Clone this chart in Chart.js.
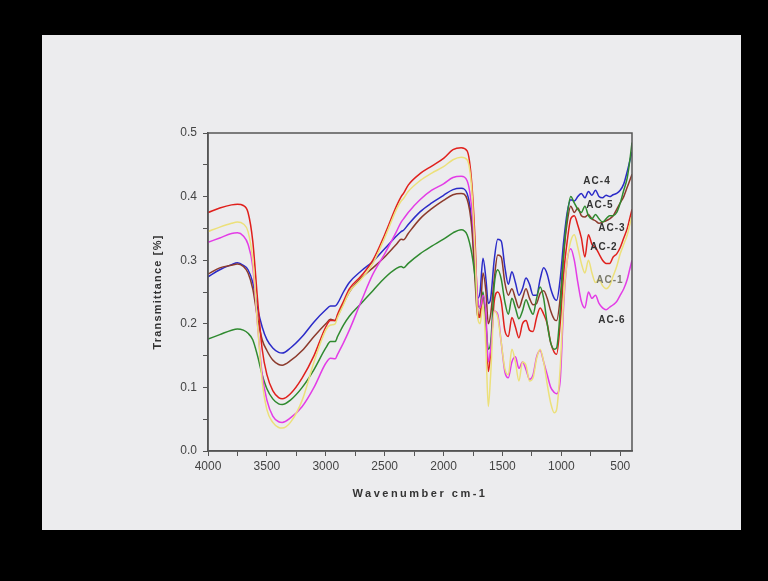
<!DOCTYPE html>
<html>
<head>
<meta charset="utf-8">
<script src="https://cdn.jsdelivr.net/npm/chart.js"></script>
<style>
  html, body { margin: 0; padding: 0; background: #000; }
  canvas { display: block; }
</style>
</head>
<body>
<canvas id="irChart" width="768" height="581"></canvas>
<script>
// wavenumber (cm-1) sampling points
const wavenumbers = [4000, 3900, 3800, 3750, 3700, 3660, 3620, 3580, 3540, 3500,
  3450, 3400, 3370, 3300, 3200, 3100, 3000, 2960, 2920, 2900,
  2850, 2800, 2700, 2600, 2500, 2400, 2360, 2340, 2300, 2200,
  2100, 2000, 1920, 1850, 1800, 1760, 1730, 1710, 1690, 1665,
  1640, 1620, 1600, 1570, 1540, 1510, 1480, 1450, 1420, 1390,
  1360, 1330, 1300, 1270, 1240, 1210, 1180, 1150, 1120, 1090,
  1060, 1040, 1010, 980, 950, 920, 890, 860, 830, 800,
  770, 740, 710, 680, 650, 620, 590, 560, 530, 500,
  470, 440, 420, 400];

const ac4 = [0.274, 0.285, 0.293, 0.296, 0.292, 0.285, 0.265, 0.225, 0.195, 0.175,
  0.162, 0.155, 0.154, 0.162, 0.180, 0.203, 0.222, 0.228, 0.228, 0.232,
  0.250, 0.265, 0.283, 0.298, 0.318, 0.338, 0.345, 0.347, 0.356, 0.376,
  0.390, 0.402, 0.411, 0.413, 0.405, 0.360, 0.280, 0.240, 0.250, 0.303,
  0.270, 0.232, 0.240, 0.300, 0.333, 0.330, 0.290, 0.262, 0.282, 0.265,
  0.245, 0.255, 0.272, 0.262, 0.245, 0.245, 0.270, 0.288, 0.278, 0.255,
  0.240, 0.237, 0.270, 0.330, 0.375, 0.395, 0.393, 0.400, 0.405, 0.398,
  0.408, 0.402, 0.410, 0.400, 0.398, 0.402, 0.400, 0.403, 0.405, 0.410,
  0.420, 0.440, 0.455, 0.470];

const ac5 = [0.176, 0.183, 0.190, 0.192, 0.190, 0.185, 0.175, 0.150, 0.120, 0.098,
  0.082, 0.074, 0.073, 0.080, 0.100, 0.128, 0.162, 0.172, 0.172, 0.180,
  0.198, 0.212, 0.232, 0.252, 0.272, 0.287, 0.290, 0.288, 0.295, 0.310,
  0.322, 0.333, 0.343, 0.348, 0.340, 0.310, 0.270, 0.235, 0.225, 0.250,
  0.200, 0.160, 0.170, 0.260, 0.285, 0.270, 0.235, 0.215, 0.240, 0.225,
  0.208, 0.220, 0.238, 0.225, 0.215, 0.240, 0.258, 0.240, 0.200, 0.170,
  0.160, 0.162, 0.220, 0.310, 0.370, 0.400, 0.390, 0.380, 0.375, 0.385,
  0.370, 0.365, 0.372, 0.365, 0.360, 0.365, 0.370, 0.370, 0.375, 0.390,
  0.410, 0.430, 0.455, 0.485];

const ac3 = [0.278, 0.288, 0.292, 0.294, 0.290, 0.280, 0.255, 0.210, 0.175, 0.158,
  0.143, 0.136, 0.135, 0.142, 0.158, 0.180, 0.200, 0.207, 0.205, 0.212,
  0.232, 0.250, 0.272, 0.288, 0.305, 0.325, 0.333, 0.332, 0.342, 0.365,
  0.381, 0.394, 0.403, 0.405, 0.396, 0.350, 0.260, 0.210, 0.215, 0.280,
  0.250, 0.200, 0.215, 0.270, 0.308, 0.305, 0.265, 0.245, 0.255, 0.240,
  0.225, 0.240, 0.255, 0.240, 0.230, 0.232, 0.248, 0.252, 0.240, 0.220,
  0.207, 0.205, 0.240, 0.310, 0.360, 0.385, 0.375, 0.382, 0.370, 0.368,
  0.372, 0.365, 0.362, 0.358, 0.360, 0.362, 0.365, 0.370, 0.380, 0.390,
  0.400, 0.415, 0.425, 0.435];

const ac2 = [0.375, 0.382, 0.387, 0.388, 0.386, 0.375, 0.330, 0.240, 0.160, 0.120,
  0.095, 0.084, 0.082, 0.090, 0.115, 0.150, 0.195, 0.205, 0.205, 0.215,
  0.235, 0.255, 0.275, 0.300, 0.340, 0.385, 0.400, 0.405, 0.418, 0.436,
  0.448, 0.460, 0.474, 0.477, 0.472, 0.420, 0.320, 0.220, 0.210, 0.245,
  0.200, 0.125, 0.155, 0.235, 0.250, 0.235, 0.190, 0.180, 0.210, 0.195,
  0.178, 0.200, 0.205, 0.190, 0.188, 0.210, 0.225, 0.215, 0.200, 0.170,
  0.155, 0.152, 0.200, 0.280, 0.330, 0.365, 0.370, 0.355, 0.335, 0.305,
  0.340, 0.325, 0.320, 0.310, 0.300, 0.295, 0.295, 0.305, 0.310, 0.320,
  0.335, 0.350, 0.365, 0.380];

const ac1 = [0.345, 0.352, 0.358, 0.360, 0.357, 0.345, 0.300, 0.200, 0.110, 0.065,
  0.045, 0.037, 0.036, 0.045, 0.080, 0.140, 0.190, 0.198, 0.200, 0.210,
  0.230, 0.250, 0.270, 0.295, 0.335, 0.380, 0.393, 0.397, 0.408, 0.425,
  0.437, 0.447, 0.458, 0.462, 0.458, 0.410, 0.300, 0.210, 0.200, 0.230,
  0.160, 0.070, 0.120, 0.220, 0.210, 0.170, 0.130, 0.120, 0.160, 0.140,
  0.110, 0.140, 0.135, 0.110, 0.115, 0.145, 0.160, 0.140, 0.105, 0.075,
  0.060, 0.065, 0.130, 0.240, 0.300, 0.330, 0.340, 0.320, 0.295, 0.280,
  0.300, 0.280, 0.265, 0.270, 0.260, 0.255, 0.260, 0.275, 0.290, 0.310,
  0.325, 0.340, 0.355, 0.370];

const ac6 = [0.328, 0.335, 0.342, 0.343, 0.338, 0.325, 0.290, 0.200, 0.120, 0.080,
  0.055, 0.046, 0.045, 0.052, 0.070, 0.100, 0.138, 0.146, 0.145, 0.152,
  0.170, 0.190, 0.235, 0.278, 0.310, 0.345, 0.360, 0.365, 0.375, 0.395,
  0.410, 0.420, 0.430, 0.432, 0.425, 0.380, 0.300, 0.240, 0.225, 0.245,
  0.215, 0.140, 0.160, 0.220, 0.215, 0.170, 0.125, 0.115, 0.140, 0.148,
  0.130, 0.140, 0.128, 0.113, 0.120, 0.148, 0.158, 0.140, 0.120, 0.100,
  0.092, 0.090, 0.110, 0.230, 0.300, 0.318, 0.300, 0.265, 0.235, 0.225,
  0.250, 0.240, 0.245, 0.232, 0.225, 0.222, 0.226, 0.230, 0.235, 0.245,
  0.255, 0.270, 0.285, 0.300];

const xTicks = [4000, 3750, 3500, 3250, 3000, 2750, 2500, 2250, 2000, 1750, 1500, 1250, 1000, 750, 500];
const xTickLabels = ['4000', '', '3500', '', '3000', '', '2500', '', '2000', '', '1500', '', '1000', '', '500'];
const yTicks = [0, 0.05, 0.1, 0.15, 0.2, 0.25, 0.3, 0.35, 0.4, 0.45, 0.5];
const yTickLabels = ['0.0', '', '0.1', '', '0.2', '', '0.3', '', '0.4', '', '0.5'];

// curve names written next to the right-hand end of the curves
const labelNames = ['AC-4', 'AC-5', 'AC-3', 'AC-2', 'AC-1', 'AC-6'];
const labelWavenumbers = [697, 672, 570, 638, 587, 570];
const labelValues = [0.4245, 0.387, 0.351, 0.321, 0.269, 0.206];

const FONT = '"Liberation Sans", Arial, sans-serif';

function pts(values) {
  return wavenumbers.map((w, i) => ({ x: w, y: values[i] }));
}

const slide = {
  id: 'slide',
  beforeDraw(chart) {
    const c = chart.ctx;
    c.save();
    c.fillStyle = '#000';
    c.fillRect(0, 0, chart.width, chart.height);
    c.fillStyle = '#ececee';
    c.fillRect(42, 35, 699, 495);
    c.restore();
  },
  afterDatasetsDraw(chart) {
    const a = chart.chartArea;
    const c = chart.ctx;
    c.save();
    c.strokeStyle = '#555';
    c.lineWidth = 1.5;
    c.strokeRect(a.left, a.top, a.right - a.left, a.bottom - a.top);
    c.restore();
  },
  afterDraw(chart) {
    const c = chart.ctx;
    const a = chart.chartArea;
    c.save();
    // curve labels
    c.font = 'bold 10px ' + FONT;
    c.letterSpacing = '1px';
    c.textAlign = 'center';
    c.textBaseline = 'middle';
    labelNames.forEach((name, i) => {
      c.fillStyle = name === 'AC-1' ? '#7a7a6a' : '#333';
      c.fillText(name, chart.scales.x.getPixelForValue(labelWavenumbers[i]),
        chart.scales.y.getPixelForValue(labelValues[i]));
    });
    // axis titles
    c.fillStyle = '#333';
    c.font = 'bold 11px ' + FONT;
    c.letterSpacing = '2.5px';
    c.fillText('Wavenumber cm-1', (a.left + a.right) / 2, 494);
    c.letterSpacing = '1.2px';
    c.translate(158, (a.top + a.bottom) / 2);
    c.rotate(-Math.PI / 2);
    c.fillText('Transmittance [%]', 0, 0);
    c.restore();
  }
};

function series(label, values, color) {
  return {
    label: label,
    data: pts(values),
    borderColor: color,
    borderWidth: 1.5,
    pointRadius: 0,
    cubicInterpolationMode: 'monotone',
    fill: false
  };
}

new Chart(document.getElementById('irChart'), {
  type: 'line',
  data: {
    datasets: [
      series('AC-1', ac1, '#ece07a'),
      series('AC-6', ac6, '#e33ce6'),
      series('AC-5', ac5, '#2f8a2f'),
      series('AC-2', ac2, '#e0201c'),
      series('AC-3', ac3, '#8c3a2c'),
      series('AC-4', ac4, '#2b2bc8')
    ]
  },
  options: {
    responsive: false,
    animation: false,
    devicePixelRatio: 1,
    layout: { padding: { left: 148, right: 136, top: 133, bottom: 80 } },
    plugins: { legend: { display: false }, tooltip: { enabled: false } },
    scales: {
      x: {
        type: 'linear',
        reverse: true,
        min: 400,
        max: 4000,
        afterBuildTicks: (s) => { s.ticks = xTicks.map(v => ({ value: v })); },
        afterFit: (s) => { s.height = 50; },
        border: { color: '#555', width: 1.5 },
        grid: { drawOnChartArea: false, tickLength: 5, tickColor: '#555' },
        ticks: {
          color: '#444',
          font: { family: FONT, size: 12 },
          padding: 3,
          maxRotation: 0,
          autoSkip: false,
          callback: (v, i) => xTickLabels[i]
        }
      },
      y: {
        min: 0,
        max: 0.5,
        afterBuildTicks: (s) => { s.ticks = yTicks.map(v => ({ value: v })); },
        afterFit: (s) => { s.width = 60; },
        border: { color: '#555', width: 1.5 },
        grid: { drawOnChartArea: false, tickLength: 5, tickColor: '#555' },
        ticks: {
          color: '#444',
          font: { family: FONT, size: 12 },
          padding: 6,
          autoSkip: false,
          callback: (v, i) => yTickLabels[i]
        }
      }
    }
  },
  plugins: [slide]
});
</script>
</body>
</html>
